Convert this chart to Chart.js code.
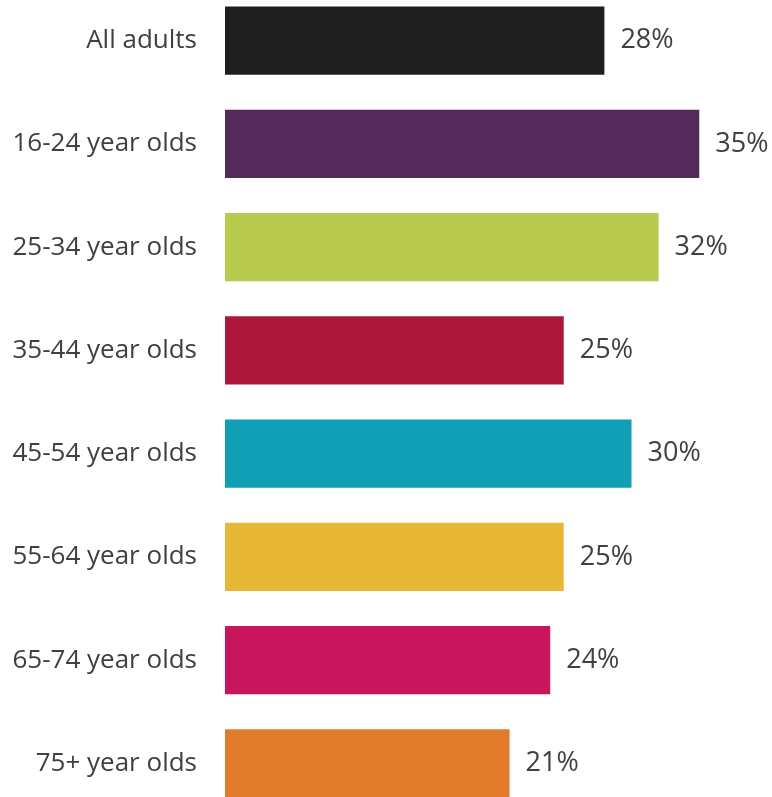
<!DOCTYPE html>
<html>
<head>
<meta charset="utf-8">
<script src="https://cdn.jsdelivr.net/npm/chart.js@4"></script>
<style>
    html, body { margin: 0; padding: 0; background: #ffffff; }
    #wrap { position: relative; width: 772px; height: 797px; overflow: hidden; }
    #grafico { position: absolute; left: 0; top: -11px; }
</style>
</head>
<body>
<div id="wrap">
    <canvas id="grafico" width="772" height="826"></canvas>
</div>
<script>
var faixas = ['All adults', '16-24 year olds', '25-34 year olds', '35-44 year olds',
    '45-54 year olds', '55-64 year olds', '65-74 year olds', '75+ year olds'];
var percentuais = [28, 35, 32, 25, 30, 25, 24, 21];
var cores = ['#1e1f1e', '#552a5a', '#b8cb4e', '#ab163a', '#109fb5', '#e8b735', '#c9145e', '#e17b2b'];

var fonte = "'Open Sans', sans-serif";
var corTexto = '#404040';

// escreve o valor ao lado de cada barra
const rotulosValor = {
    id: 'rotulosValor',
    afterDatasetsDraw(chart) {
        const ctx = chart.ctx;
        const meta = chart.getDatasetMeta(0);
        ctx.save();
        ctx.font = '27px ' + fonte;
        ctx.fillStyle = corTexto;
        ctx.textAlign = 'left';
        ctx.textBaseline = 'middle';
        meta.data.forEach(function (barra, i) {
            ctx.fillText(percentuais[i] + '%', barra.x + 16, barra.y);
        });
        ctx.restore();
    }
};

const config = {
    type: 'bar',
    data: {
        labels: faixas,
        datasets: [{
            data: percentuais,
            backgroundColor: cores,
            borderWidth: 0,
            categoryPercentage: 1,
            barPercentage: 0.66
        }]
    },
    options: {
        indexAxis: 'y',
        responsive: false,
        animation: false,
        layout: { padding: { top: 0, bottom: 0, left: 0, right: 5 } },
        plugins: {
            legend: { display: false },
            tooltip: { enabled: false }
        },
        scales: {
            x: {
                display: false,
                min: 0,
                max: 40
            },
            y: {
                // largura fixa do eixo e sem folga em cima/embaixo
                afterFit: function (escala) {
                    escala.width = 225;
                    escala.paddingTop = 0;
                    escala.paddingBottom = 0;
                },
                grid: { display: false, drawTicks: false },
                border: { display: false },
                ticks: {
                    padding: 28,
                    color: corTexto,
                    font: { family: fonte, size: 26 }
                }
            }
        }
    },
    plugins: [rotulosValor]
};

new Chart(document.getElementById('grafico'), config);
</script>
</body>
</html>
